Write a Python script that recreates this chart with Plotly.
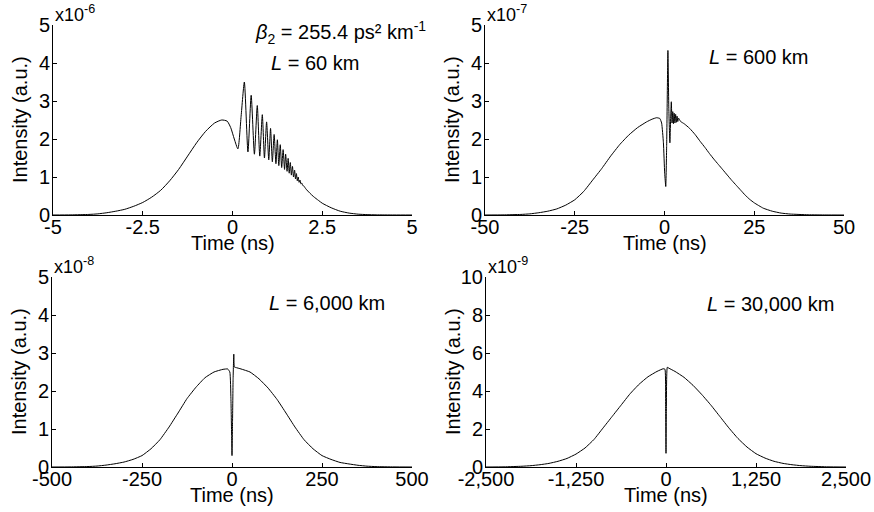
import plotly.graph_objects as go

# ---------------- data ----------------
# Panel a: L = 60 km, time in ns, intensity in units of 1e-6
t_60 = [-5, -4.5, -4, -3.75, -3.5, -3.25, -3, -2.75, -2.5, -2.25, -2, -1.75, -1.5, -1.25, -1.0,
        -0.75, -0.5, -0.3, -0.15, -0.05, 0.05, 0.15, 0.24, 0.33, 0.43, 0.52, 0.61, 0.69, 0.76,
        0.83, 0.89, 0.95, 1.01, 1.06, 1.11, 1.16, 1.21, 1.25, 1.29, 1.33, 1.37, 1.41, 1.45,
        1.48, 1.52, 1.55, 1.58, 1.61, 1.64, 1.67, 1.70, 1.73, 1.755, 1.78, 1.805, 1.83, 1.855,
        1.88, 1.905, 1.93, 1.955, 1.98, 2.05, 2.15, 2.25, 2.4, 2.5, 2.75, 3.0, 3.25, 3.5, 3.75,
        4.0, 4.5, 5]
i_60 = [0, 0.003, 0.015, 0.03, 0.06, 0.1, 0.15, 0.23, 0.33, 0.47, 0.65, 0.9, 1.2, 1.55, 1.9,
        2.2, 2.42, 2.5, 2.47, 2.3, 2.0, 1.74, 2.6, 3.5, 1.66, 3.15, 1.6, 2.88, 1.55,
        2.64, 1.5, 2.45, 1.45, 2.28, 1.40, 2.12, 1.35, 1.98, 1.30, 1.85, 1.25, 1.72, 1.20,
        1.60, 1.15, 1.49, 1.10, 1.38, 1.05, 1.28, 1.00, 1.18, 0.95, 1.09, 0.90, 1.00, 0.86,
        0.92, 0.82, 0.84, 0.78, 0.77, 0.68, 0.58, 0.49, 0.38, 0.31, 0.19, 0.10, 0.05, 0.022, 0.01,
        0.004, 0.0005, 0]

# Panel b: L = 600 km, intensity in units of 1e-7
t_600 = [-50, -45, -40, -37.5, -35, -32.5, -30, -27.5, -25, -22.5, -20, -17.5, -15, -12.5, -10,
         -7.5, -5, -3.5, -2.2, -1.3, -0.8, -0.3, 0.05, 0.35, 0.6, 0.95, 1.2, 1.5, 1.7, 1.9,
         2.1, 2.3, 2.5, 2.7, 2.9, 3.1, 3.3, 3.5, 3.7, 3.9, 4.5, 5.5, 7, 8.5, 10, 11.25, 12.5,
         13.75, 15, 16.25, 17.5, 18.75, 20, 21.25, 22.5, 23.75, 25, 27.5, 30, 32.5, 35, 40, 45, 50]
i_600 = [0, 0.003, 0.015, 0.03, 0.06, 0.1, 0.16, 0.26, 0.4, 0.62, 0.92, 1.22, 1.55, 1.85, 2.1,
         2.3, 2.45, 2.52, 2.56, 2.54, 2.42, 1.9, 1.1, 0.75, 1.8, 4.33, 2.8, 1.9, 2.5, 2.98,
         2.42, 2.72, 2.4, 2.68, 2.42, 2.65, 2.44, 2.6, 2.46, 2.55, 2.46, 2.4, 2.28, 2.12, 1.93, 1.78, 1.62,
         1.47, 1.33, 1.19, 1.05, 0.91, 0.78, 0.65, 0.52, 0.41, 0.32, 0.18, 0.1, 0.05, 0.025, 0.006, 0.001, 0]

# Panel c: L = 6,000 km, intensity in units of 1e-8
t_6000 = [-500, -450, -400, -375, -350, -325, -300, -275, -250, -225, -200, -175, -150, -125,
          -100, -75, -50, -25, -12, -6, -3, -1, 0, 1.5, 3, 5, 6.5, 10, 25, 50, 75, 100, 125,
          150, 175, 200, 225, 250, 275, 300, 325, 350, 375, 400, 450, 500]
i_6000 = [0, 0.002, 0.012, 0.025, 0.05, 0.085, 0.13, 0.2, 0.3, 0.48, 0.72, 1.05, 1.42, 1.8,
          2.1, 2.35, 2.5, 2.57, 2.58, 2.5, 1.8, 0.8, 0.3, 1.2, 2.3, 2.97, 2.63, 2.62, 2.58, 2.5,
          2.32, 2.08, 1.78, 1.42, 1.05, 0.72, 0.48, 0.3, 0.2, 0.12, 0.08, 0.045, 0.022, 0.01, 0.002, 0]

# Panel d: L = 30,000 km, intensity in units of 1e-9
t_30000 = [-2500, -2250, -2000, -1875, -1750, -1625, -1500, -1375, -1250, -1125, -1000, -875,
           -750, -625, -500, -375, -250, -125, -40, -15, -5, 0, 5, 18, 40, 125, 250, 375, 500,
           625, 750, 875, 1000, 1125, 1250, 1375, 1500, 1625, 1750, 1875, 2000, 2250, 2500]
i_30000 = [0, 0.008, 0.04, 0.07, 0.12, 0.19, 0.3, 0.45, 0.68, 1.0, 1.45, 2.05,
           2.65, 3.25, 3.85, 4.35, 4.75, 5.03, 5.17, 5.15, 3.0, 0.72, 3.0, 5.25, 5.2, 5.03, 4.72, 4.3, 3.8,
           3.25, 2.65, 2.05, 1.5, 1.05, 0.7, 0.47, 0.3, 0.19, 0.12, 0.07, 0.04, 0.008, 0]

# tick values / labels
xt_60 = [-5, -2.5, 0, 2.5, 5]
xl_60 = ["-5", "-2.5", "0", "2.5", "5"]
xt_600 = [-50, -25, 0, 25, 50]
xl_600 = ["-50", "-25", "0", "25", "50"]
xt_6000 = [-500, -250, 0, 250, 500]
xl_6000 = ["-500", "-250", "0", "250", "500"]
xt_30000 = [-2500, -1250, 0, 1250, 2500]
xl_30000 = ["-2,500", "-1,250", "0", "1,250", "2,500"]
yt_a = [0, 1, 2, 3, 4, 5]
yt_d = [0, 2, 4, 6, 8, 10]
exponents = ["-6", "-7", "-8", "-9"]
length_labels = ["<i>L</i> = 60 km", "<i>L</i> = 600 km", "<i>L</i> = 6,000 km", "<i>L</i> = 30,000 km"]
beta_label = "<i>β</i><sub>2</sub> = 255.4 ps² km<sup>-1</sup>"

# ---------------- layout helpers ----------------
W, H = 874, 512
def px(x):
    return x / W
def py(y):
    return 1 - y / H

FONT = "Liberation Sans, Arial, Helvetica, sans-serif"
FS = 20

fig = go.Figure()
series = [(t_60, i_60, 0.6), (t_600, i_600, 0.4), (t_6000, i_6000, 0.4), (t_30000, i_30000, 0.4)]
for k, (t, v, sm) in enumerate(series):
    sfx = "" if k == 0 else str(k + 1)
    fig.add_trace(go.Scatter(x=t, y=v, mode="lines",
                             line=dict(color="black", width=1, shape="spline", smoothing=sm),
                             xaxis="x" + sfx, yaxis="y" + sfx, showlegend=False, hoverinfo="skip"))

# panel geometry in pixels: (x_left, x_right, y_bottom, y_top)
geo = [(53, 412, 215, 25), (485, 844, 215, 25), (52, 412, 467, 277), (486, 846, 467, 277)]
xticks = [(xt_60, xl_60, [-5, 5]), (xt_600, xl_600, [-50, 50]),
          (xt_6000, xl_6000, [-500, 500]), (xt_30000, xl_30000, [-2500, 2500])]
yticks = [(yt_a, [0, 5]), (yt_a, [0, 5]), (yt_a, [0, 5]), (yt_d, [0, 10])]

axis_common = dict(showline=True, linecolor="black", linewidth=1, ticks="inside", ticklen=4,
                   tickwidth=1, tickcolor="black", showgrid=False, zeroline=False, automargin=False,
                   tickfont=dict(family=FONT, size=FS, color="black"), fixedrange=True)

layout = {}
annotations = []
for k in range(4):
    sfx = "" if k == 0 else str(k + 1)
    xl, xr, yb, yt = geo[k]
    tv, tl, xr_rng = xticks[k]
    ytv, yr_rng = yticks[k]
    layout["xaxis" + sfx] = dict(domain=[px(xl), px(xr)], range=xr_rng, anchor="y" + sfx,
                                 tickmode="array", tickvals=tv, ticktext=tl,
                                 ticklabelstandoff=-6, **axis_common)
    layout["yaxis" + sfx] = dict(domain=[py(yb), py(yt)], range=yr_rng, anchor="x" + sfx,
                                 tickmode="array", tickvals=ytv, ticktext=[str(v) for v in ytv],
                                 ticklabelstandoff=-2, **axis_common)
    # axis titles
    annotations.append(dict(text="Time (ns)", x=px((xl + xr) / 2), y=py(yb + 28), xref="paper", yref="paper",
                            xanchor="center", yanchor="middle", showarrow=False,
                            font=dict(family=FONT, size=FS, color="black")))
    annotations.append(dict(text="Intensity (a.u.)", x=px(xl - 33), y=py((yb + yt) / 2), xref="paper", yref="paper",
                            xanchor="center", yanchor="middle", textangle=-90, showarrow=False,
                            font=dict(family=FONT, size=FS, color="black")))
    # exponent
    annotations.append(dict(text="x10<sup>" + exponents[k] + "</sup>", x=px(xl), y=py(yt + 2),
                            xref="paper", yref="paper", xanchor="left", yanchor="bottom", showarrow=False,
                            font=dict(family=FONT, size=18, color="black")))

# length labels
len_pos = [(269, 63), (707, 57), (267, 303), (705, 304)]
for k, (lx, ly) in enumerate(len_pos):
    annotations.append(dict(text=length_labels[k], x=px(lx), y=py(ly), xref="paper", yref="paper",
                            xanchor="left", yanchor="middle", showarrow=False,
                            font=dict(family=FONT, size=FS, color="black")))
annotations.append(dict(text=beta_label, x=px(253), y=py(32), xref="paper", yref="paper",
                        xanchor="left", yanchor="middle", showarrow=False,
                        font=dict(family=FONT, size=FS, color="black")))

fig.update_layout(width=W, height=H, margin=dict(l=0, r=0, t=0, b=0, autoexpand=False),
                  paper_bgcolor="white", plot_bgcolor="white", template="none",
                  annotations=annotations, **layout)

fig.write_html("out.html", config={"displayModeBar": False},
               post_script="document.body.style.margin='0';document.body.style.overflow='hidden';")
